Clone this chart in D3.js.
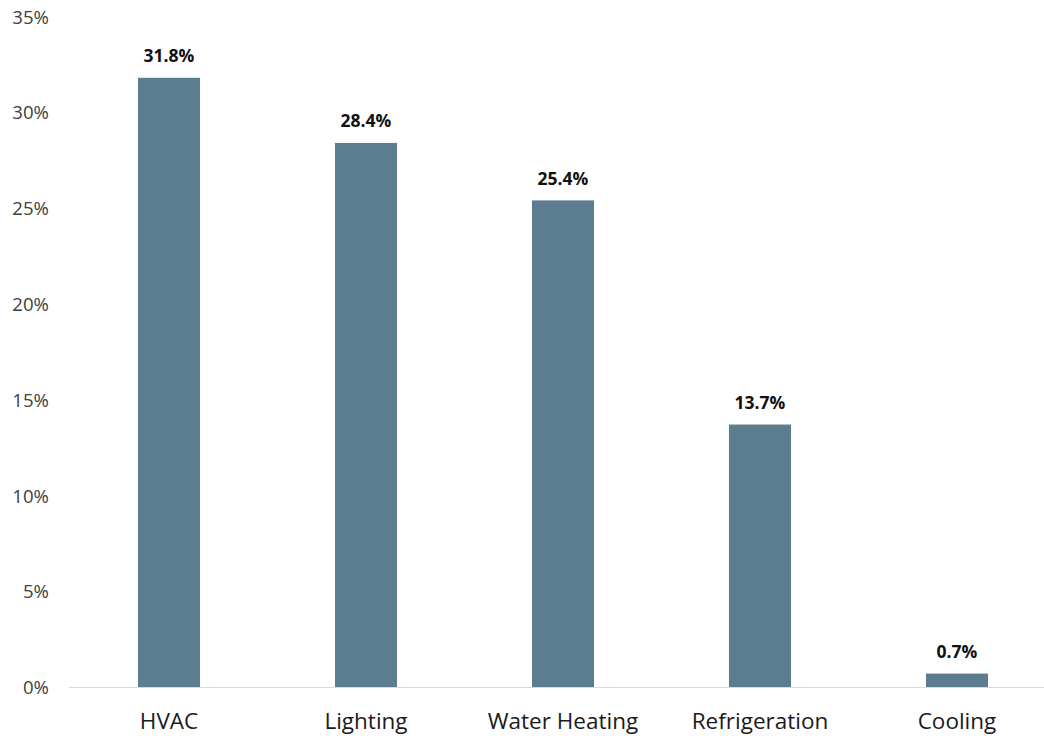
<!DOCTYPE html>
<html>
<head>
<meta charset="utf-8">
<script src="https://cdn.jsdelivr.net/npm/d3@7/dist/d3.min.js"></script>
<style>
  html, body { margin: 0; padding: 0; background: #ffffff; }
  svg { display: block; font-family: "Open Sans", sans-serif; }
</style>
</head>
<body>
<svg id="chart" width="1044" height="736"></svg>
<script>
// Share of energy use by end use (%)
const categories = ["HVAC", "Lighting", "Water Heating", "Refrigeration", "Cooling"];
const shares = [31.8, 28.4, 25.4, 13.7, 0.7];
const yTicks = [0, 5, 10, 15, 20, 25, 30, 35];

const svg = d3.select("#chart");
const W = 1044, H = 736;
const baseY = 687, topY = 16.5;
const FONT = "'Open Sans', sans-serif";

const x = d3.scaleBand().domain(categories).range([70.5, 1055.5]).paddingInner(0.685).paddingOuter(0.3425);
const y = d3.scaleLinear().domain([0, 35]).range([baseY, topY]);

// y-axis labels (no axis line, no gridlines)
const yAxis = d3.axisLeft(y).tickValues(yTicks).tickFormat(d => d + "%").tickSize(0).tickPadding(0);
const gy = svg.append("g").attr("transform", "translate(49,0)").call(yAxis);
gy.select(".domain").remove();
gy.selectAll("text").attr("font-size", 18.6).attr("fill", "#404040").attr("font-family", FONT).attr("dy", "0.36em");

// bars
svg.append("g").selectAll("rect").data(categories).join("rect")
  .attr("x", d => x(d))
  .attr("width", x.bandwidth())
  .attr("y", (d, i) => y(shares[i]))
  .attr("height", (d, i) => baseY - y(shares[i]))
  .attr("fill", "#5B7D8F");

// baseline
svg.append("line").attr("x1", 69).attr("x2", W).attr("y1", baseY + 0.5).attr("y2", baseY + 0.5)
  .attr("stroke", "#d9d9d9").attr("stroke-width", 1);

// x-axis category labels
const xAxis = d3.axisBottom(x).tickSize(0).tickPadding(0);
const gx = svg.append("g").attr("transform", `translate(0,${baseY})`).call(xAxis);
gx.select(".domain").remove();
gx.selectAll("text").attr("font-size", 22.5).attr("fill", "#1a1a1a").attr("font-family", FONT)
  .attr("y", 42).attr("dy", 0);

// value labels
svg.append("g").selectAll("text").data(categories).join("text")
  .attr("x", d => x(d) + x.bandwidth() / 2)
  .attr("y", (d, i) => y(shares[i]) - 15.5)
  .attr("text-anchor", "middle")
  .attr("font-family", FONT)
  .attr("font-size", 17.5)
  .attr("font-weight", "bold")
  .attr("fill", "#111")
  .text((d, i) => shares[i].toFixed(1) + "%");
</script>
</body>
</html>
